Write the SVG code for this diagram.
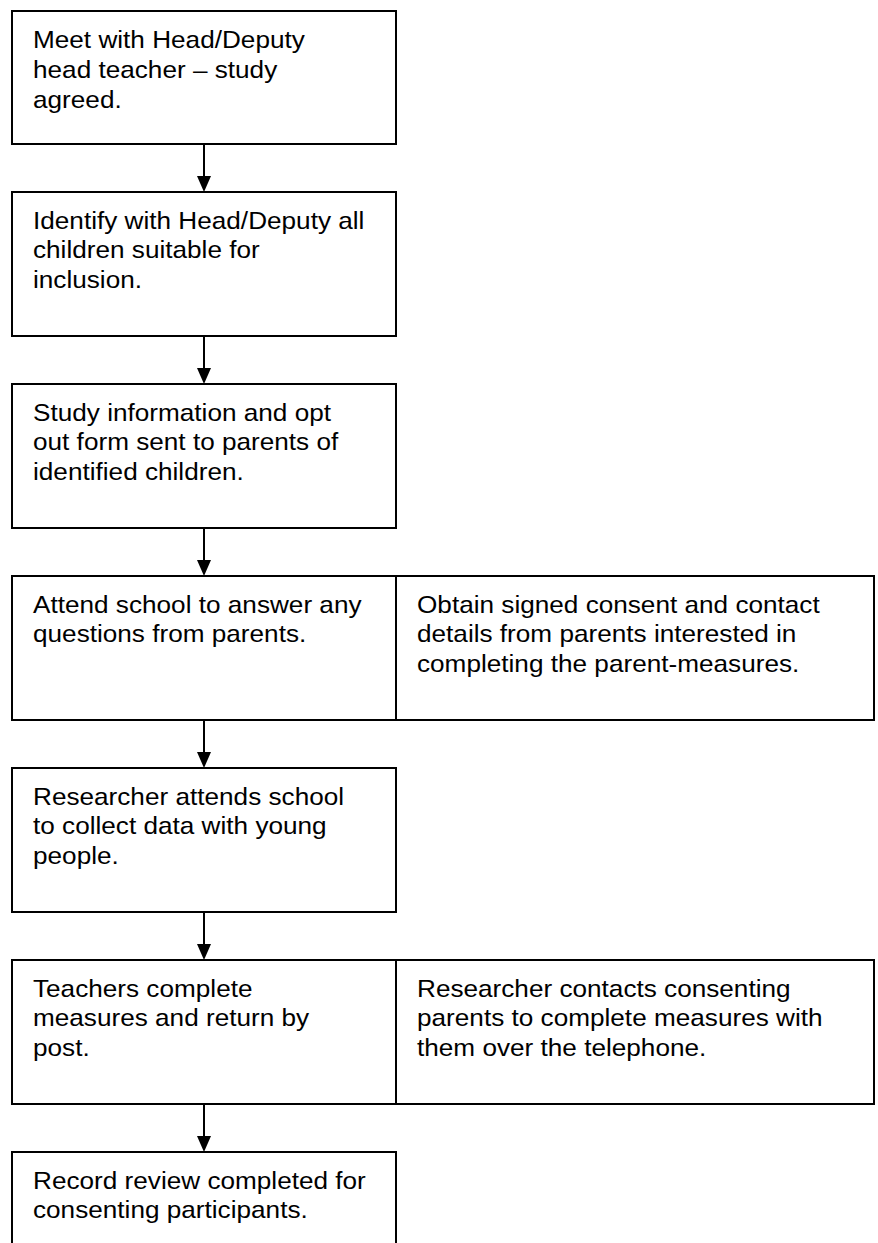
<svg xmlns="http://www.w3.org/2000/svg" width="878" height="1243" viewBox="0 0 878 1243">
<style>
.box{fill:#fff;stroke:#000;stroke-width:2}
.t{font-family:"Liberation Sans",Arial,sans-serif;font-size:24px;fill:#000}
.c{stroke:#000;stroke-width:2;fill:none}
.h{fill:#000}
</style>
<rect width="878" height="1243" fill="#fff"/>
<g id="n1">
<rect class="box" x="12" y="11" width="384" height="133"/>
<text class="t" transform="translate(33 48) scale(1.09 1)"><tspan x="0" y="0">Meet with Head/Deputy</tspan><tspan x="0" y="30">head teacher – study</tspan><tspan x="0" y="60">agreed.</tspan></text>
</g>
<g id="n2">
<rect class="box" x="12" y="192" width="384" height="144"/>
<text class="t" transform="translate(33 228.5) scale(1.09 1)"><tspan x="0" y="0">Identify with Head/Deputy all</tspan><tspan x="0" y="30">children suitable for</tspan><tspan x="0" y="60">inclusion.</tspan></text>
</g>
<g id="n3">
<rect class="box" x="12" y="384" width="384" height="144"/>
<text class="t" transform="translate(33 420.5) scale(1.09 1)"><tspan x="0" y="0">Study information and opt</tspan><tspan x="0" y="30">out form sent to parents of</tspan><tspan x="0" y="60">identified children.</tspan></text>
</g>
<g id="n4">
<rect class="box" x="12" y="576" width="384" height="144"/>
<text class="t" transform="translate(33 612.5) scale(1.09 1)"><tspan x="0" y="0">Attend school to answer any</tspan><tspan x="0" y="30">questions from parents.</tspan></text>
</g>
<g id="n4b">
<rect class="box" x="396" y="576" width="478" height="144"/>
<text class="t" transform="translate(417 612.5) scale(1.09 1)"><tspan x="0" y="0">Obtain signed consent and contact</tspan><tspan x="0" y="30">details from parents interested in</tspan><tspan x="0" y="60">completing the parent-measures.</tspan></text>
</g>
<g id="n5">
<rect class="box" x="12" y="768" width="384" height="144"/>
<text class="t" transform="translate(33 804.5) scale(1.09 1)"><tspan x="0" y="0">Researcher attends school</tspan><tspan x="0" y="30">to collect data with young</tspan><tspan x="0" y="60">people.</tspan></text>
</g>
<g id="n6">
<rect class="box" x="12" y="960" width="384" height="144"/>
<text class="t" transform="translate(33 996.5) scale(1.09 1)"><tspan x="0" y="0">Teachers complete</tspan><tspan x="0" y="30">measures and return by</tspan><tspan x="0" y="60">post.</tspan></text>
</g>
<g id="n6b">
<rect class="box" x="396" y="960" width="478" height="144"/>
<text class="t" transform="translate(417 996.5) scale(1.09 1)"><tspan x="0" y="0">Researcher contacts consenting</tspan><tspan x="0" y="30">parents to complete measures with</tspan><tspan x="0" y="60">them over the telephone.</tspan></text>
</g>
<g id="n7">
<rect class="box" x="12" y="1152" width="384" height="144"/>
<text class="t" transform="translate(33 1188.5) scale(1.09 1)"><tspan x="0" y="0">Record review completed for</tspan><tspan x="0" y="30">consenting participants.</tspan></text>
</g>
<g id="connectors">
<line class="c" x1="204" y1="144" x2="204" y2="177"/><polygon class="h" points="197,176 211,176 204,192"/>
<line class="c" x1="204" y1="336" x2="204" y2="369"/><polygon class="h" points="197,368 211,368 204,384"/>
<line class="c" x1="204" y1="528" x2="204" y2="561"/><polygon class="h" points="197,560 211,560 204,576"/>
<line class="c" x1="204" y1="720" x2="204" y2="753"/><polygon class="h" points="197,752 211,752 204,768"/>
<line class="c" x1="204" y1="912" x2="204" y2="945"/><polygon class="h" points="197,944 211,944 204,960"/>
<line class="c" x1="204" y1="1104" x2="204" y2="1137"/><polygon class="h" points="197,1136 211,1136 204,1152"/>
</g>
</svg>
